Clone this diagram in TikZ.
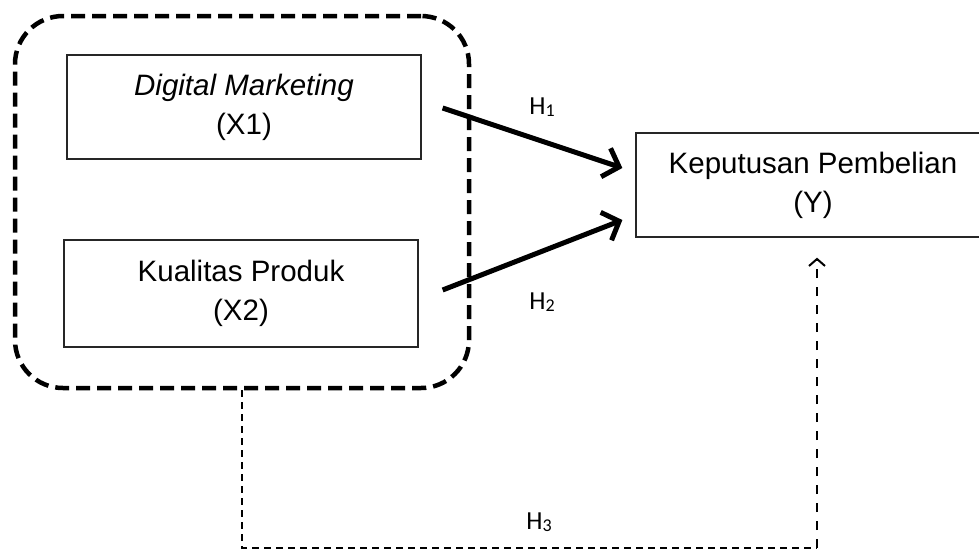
\documentclass[tikz,border=0pt]{standalone}
\usepackage{fontspec}
\setmainfont{Liberation Sans}
\newfontfamily\hfont{Carlito}
\usetikzlibrary{arrows.meta,calc}
\tikzset{
  varbox/.style={draw=black!85, line width=1.3pt, inner sep=0pt, align=center,
     font=\fontsize{29.5}{39}\selectfont},
  grpbox/.style={draw=black, line width=4.5pt, dash pattern=on 14pt off 7pt,
     rounded corners=48pt, minimum width=454pt, minimum height=372pt, inner sep=0pt},
  bigarrow/.style={line width=5pt, -{Straight Barb[length=14pt,width=30pt,line width=5pt]}},
  hlabel/.style={font=\hfont\fontsize{26}{26}\selectfont, inner sep=0pt},
  thindash/.style={line width=1.6pt, dash pattern=on 7pt off 5pt},
  thickdash/.style={line width=2.8pt, dash pattern=on 9pt off 9pt,
     -{Straight Barb[length=7pt,width=16pt,line width=2pt]}}
}
\newcommand{\hsub}[1]{H\raisebox{-1.5pt}{\fontsize{18}{18}\selectfont #1}}
\begin{document}
\begin{tikzpicture}[x=1pt,y=-1pt]
\clip (0,0) rectangle (979,552);
\fill[white] (0,0) rectangle (979,552);
\node[grpbox] (grp) at (242,202) {};
\node[varbox, minimum width=354pt, minimum height=104pt] (x1) at (244,107)
  {\textit{Digital Marketing}\\(X1)};
\node[varbox, minimum width=354pt, minimum height=107pt] (x2) at (241,293.5)
  {Kualitas Produk\\(X2)};
\node[varbox, minimum width=354pt, minimum height=104pt] (y) at (813,185)
  {Keputusan Pembelian\\(Y)};
\draw[bigarrow] ($(x1.east)+(21,1)$) -- ($(y.west)+(-13,-17)$);
\draw[bigarrow] ($(x2.east)+(24,-3.5)$) -- ($(y.west)+(-13,35)$);
\node[hlabel] (h1) at (542,107) {\hsub{1}};
\node[hlabel] (h2) at (542,302) {\hsub{2}};
\node[hlabel] (h3) at (539,522) {\hsub{3}};
\coordinate (tip) at ($(y.south)+(4,20)$);
\coordinate (corner) at (tip |- 0,548);
\draw[thindash] (grp.south) |- (corner);
\draw[thickdash] (corner) -- (tip);
\end{tikzpicture}
\end{document}
